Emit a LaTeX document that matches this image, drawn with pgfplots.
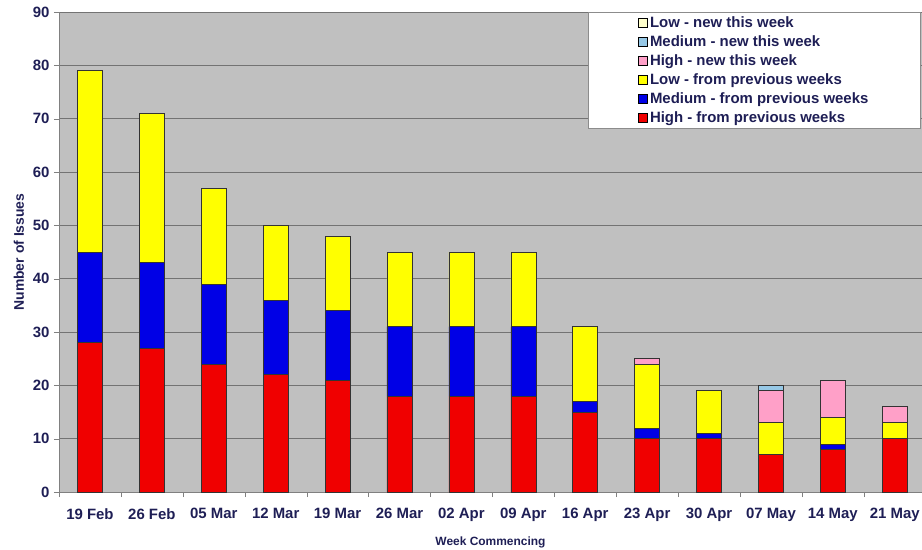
\documentclass[border=0pt]{standalone}
\usepackage{fontspec}
\setmainfont{Liberation Sans}
\usepackage{pgfplots}
\usepackage{pgfplotstable}
\pgfplotsset{compat=1.18}
\definecolor{txt}{RGB}{30,30,85}
\definecolor{bg}{RGB}{192,192,192}
\definecolor{cHP}{RGB}{240,0,0}
\definecolor{cMP}{RGB}{0,0,230}
\definecolor{cLP}{RGB}{255,255,0}
\definecolor{cHN}{RGB}{255,160,200}
\definecolor{cMN}{RGB}{150,200,230}
\definecolor{cLN}{RGB}{255,255,204}
\pgfplotstableread{
x hp mp lp hn mn ln
0 28 17 34 0 0 0
1 27 16 28 0 0 0
2 24 15 18 0 0 0
3 22 14 14 0 0 0
4 21 13 14 0 0 0
5 18 13 14 0 0 0
6 18 13 14 0 0 0
7 18 13 14 0 0 0
8 15 2 14 0 0 0
9 10 2 12 1 0 0
10 10 1 8 0 0 0
11 7 0 6 6 1 0
12 8 1 5 7 0 0
13 10 0 3 3 0 0
}\data
\begin{document}
\begin{tikzpicture}
\useasboundingbox (0,0) rectangle (922bp,550bp);
\begin{axis}[
  at={(59bp,58bp)}, anchor=south west,
  scale only axis, width=863bp, height=480bp,
  ybar stacked, bar width=25bp,
  xmin=-0.5, xmax=13.44, ymin=0, ymax=90,
  ytick={0,10,...,90},
  xtick={0,...,13},
  xticklabels={19 Feb,26 Feb,05 Mar,12 Mar,19 Mar,26 Mar,02 Apr,09 Apr,16 Apr,23 Apr,30 Apr,07 May,14 May,21 May},
  minor xtick={-0.5,0.5,...,13.5},
  major x tick style={draw=none},
  minor tick length=5bp,
  major tick length=5bp,
  tick align=outside,
  xtick pos=bottom, ytick pos=left,
  ymajorgrids, grid style={draw=black!55, line width=0.8pt},
  axis background/.style={fill=bg},
  axis line style={draw=black!50},
  tick style={draw=black!50},
  axis x line*=bottom, axis y line*=left,
  /pgf/number format/assume math mode=true,
  ticklabel style={font=\fontsize{15}{17}\selectfont\bfseries, text=txt},
  xticklabel style={yshift=-8bp},
  yticklabel style={xshift=-1bp},
  xlabel={Week Commencing}, ylabel={Number of Issues},
  xlabel style={font=\fontsize{12}{14}\selectfont\bfseries, text=txt, yshift=-8bp},
  ylabel style={font=\fontsize{14}{16}\selectfont\bfseries, text=txt, yshift=2bp},
  reverse legend,
  legend style={at={(rel axis cs:0.613,1)}, anchor=north west, draw=black!45, line width=0.8pt, fill=white,
    font=\fontsize{15}{17}\selectfont\bfseries, text=txt, inner xsep=50bp, inner ysep=2.5bp, row sep=2.6bp,
    cells={anchor=west}},
  legend image code/.code={\draw[#1, draw=black, line width=0.6pt] (0bp,-4.5bp) rectangle (9bp,4.5bp);},
  every axis plot/.append style={draw=black!80, line width=0.5pt},
]
\addplot[fill=cHP] table[x=x,y=hp]{\data};
\addplot[fill=cMP] table[x=x,y=mp]{\data};
\addplot[fill=cLP] table[x=x,y=lp]{\data};
\addplot[fill=cHN] table[x=x,y=hn]{\data};
\addplot[fill=cMN] table[x=x,y=mn]{\data};
\addplot[fill=cLN] table[x=x,y=ln]{\data};
\legend{High - from previous weeks,Medium - from previous weeks,Low - from previous weeks,High - new this week,Medium - new this week,Low - new this week}
\end{axis}
\end{tikzpicture}
\end{document}
